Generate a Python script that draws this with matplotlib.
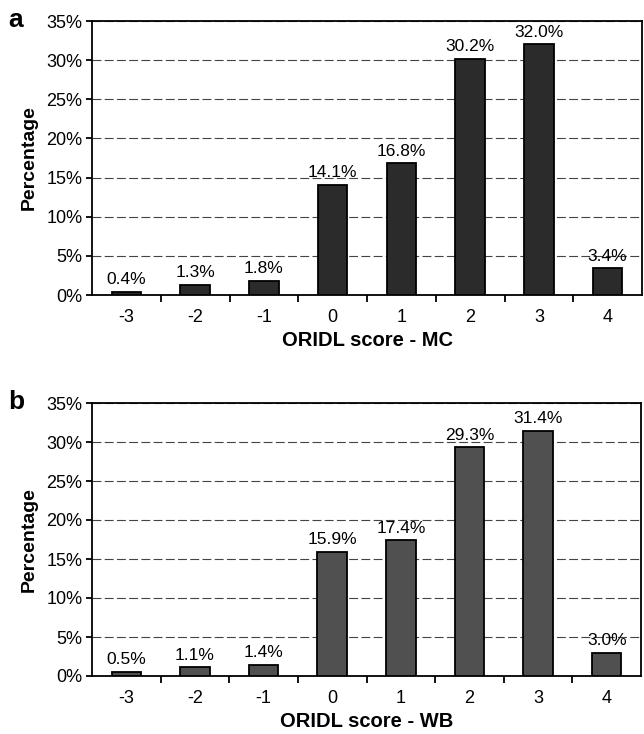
import matplotlib.pyplot as plt
from matplotlib.ticker import FuncFormatter

plt.rcParams['font.family'] = ['Liberation Sans', 'DejaVu Sans']

scores = [-3, -2, -1, 0, 1, 2, 3, 4]
mc_pct = [0.4, 1.3, 1.8, 14.1, 16.8, 30.2, 32.0, 3.4]
wb_pct = [0.5, 1.1, 1.4, 15.9, 17.4, 29.3, 31.4, 3.0]
panels = [('a', 'ORIDL score - MC', mc_pct, '#2b2b2b'),
          ('b', 'ORIDL score - WB', wb_pct, '#505050')]

fig = plt.figure(figsize=(6.44, 7.34), dpi=100)
W, H = 644, 734
boxes = [(92, 21, 642, 295), (92, 403, 641, 676)]

for (letter, xlabel, vals, color), (x0, y0, x1, y1) in zip(panels, boxes):
    ax = fig.add_axes([x0 / W, 1 - y1 / H, (x1 - x0) / W, (y1 - y0) / H])
    pos = list(range(len(scores)))
    ax.bar(pos, vals, width=0.43, color=color, edgecolor='black', linewidth=1.3, zorder=3)
    for p, v in zip(pos, vals):
        ax.text(p, v + 0.6, f'{v:.1f}%', ha='center', va='bottom', fontsize=12.5)
    ax.set_xlim(-0.5, len(scores) - 0.5)
    ax.set_ylim(0, 35)
    ax.set_yticks(range(0, 36, 5))
    ax.yaxis.set_major_formatter(FuncFormatter(lambda y, _: f'{y:.0f}%'))
    ax.set_xticks(pos)
    ax.set_xticklabels([str(s) for s in scores])
    ax.set_xticks([p + 0.5 for p in pos[:-1]], minor=True)
    ax.tick_params(axis='x', which='major', length=0, pad=10, labelsize=13)
    ax.tick_params(axis='x', which='minor', length=5, direction='out', width=1.3)
    ax.tick_params(axis='y', length=4, width=1.3, labelsize=13, pad=3)
    ax.yaxis.grid(True, color='#444444', linestyle=(0, (8, 3)), linewidth=0.8, zorder=0)
    for s in ax.spines.values():
        s.set_linewidth(1.3)
    ax.set_xlabel(xlabel, fontsize=14.5, fontweight='bold', labelpad=4)
    ax.set_ylabel('Percentage', fontsize=14, fontweight='bold', labelpad=6)
    fig.text(8 / W, 1 - (y0 - 1) / H, letter, fontsize=19, fontweight='bold', va='center', ha='left')

fig.savefig('out.png', dpi=100)
